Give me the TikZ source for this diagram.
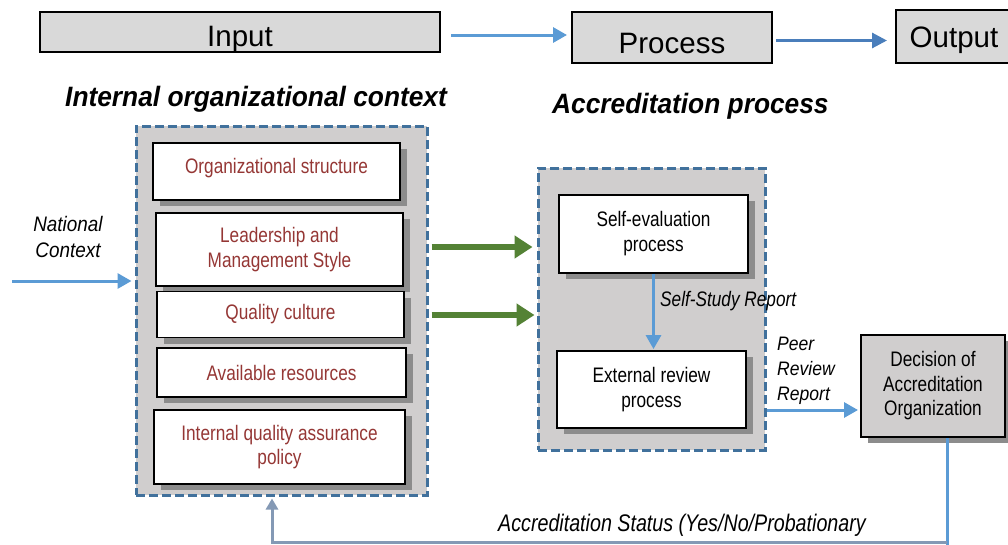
\documentclass[tikz,border=0pt]{standalone}
\usepackage{fontspec}
\setmainfont{Liberation Sans}
\newfontfamily\cf{Liberation Sans}[FakeStretch=0.82]
\newfontfamily\tf{Liberation Sans}[FakeStretch=0.94]
\newfontfamily\nf{Liberation Sans}[FakeStretch=0.9]
\usetikzlibrary{arrows.meta,shadows}
\definecolor{dred}{HTML}{953735}
\definecolor{cgray}{HTML}{D0CECE}
\definecolor{dblue}{HTML}{41719C}
\definecolor{lblue}{HTML}{5B9BD5}
\definecolor{mblue}{HTML}{4A7EBB}
\definecolor{gblue}{HTML}{8499B5}
\definecolor{agreen}{HTML}{548235}
\definecolor{tgray}{HTML}{D9D9D9}
\definecolor{shgray}{HTML}{8C8C8C}
\begin{document}
\begin{tikzpicture}[x=1pt,y=-1pt,
  topbox/.style={draw=black, line width=2pt, fill=tgray, inner sep=0pt,
    font=\fontsize{29.5}{35}\selectfont, text depth=0pt},
  container/.style={draw=dblue, line width=3pt, dash pattern=on 9pt off 4pt,
    fill=cgray, inner sep=0pt},
  shad/.style={drop shadow={shadow xshift=7pt, shadow yshift=-6pt, fill=shgray, opacity=1}},
  factor/.style={shad, draw=black, line width=1.8pt, fill=white, inner sep=0pt,
    text=dred, align=center, font=\cf\fontsize{21}{24.5}\selectfont},
  procbox/.style={shad, draw=black, line width=1.8pt, fill=white, inner sep=0pt,
    align=center, font=\cf\fontsize{21}{25}\selectfont},
  title/.style={anchor=base west, inner sep=0pt,
    font=\tf\fontsize{28}{34}\selectfont\bfseries\itshape},
  lbl/.style={inner sep=0pt, font=\cf\fontsize{21}{25.5}\selectfont\itshape},
  nlbl/.style={inner sep=0pt, font=\nf\fontsize{21}{26}\selectfont\itshape},
  barrow/.style={draw=lblue, line width=3pt, -{Triangle[length=14pt,width=15pt]}},
  marrow/.style={draw=mblue, line width=3pt, -{Triangle[length=15pt,width=15pt]}},
  garrow/.style={draw=agreen, line width=6.5pt, -{Triangle[length=18pt,width=22pt]}},
  bline/.style={draw=lblue, line width=3pt},
  fbarrow/.style={draw=gblue, line width=3pt, -{Triangle[length=11pt,width=12pt]}}
]
\useasboundingbox (0,0) rectangle (1008,544);
\fill[white] (0,0) rectangle (1008,544);

% top row
\node[topbox, text height=28pt, minimum width=400pt, minimum height=40pt] (in) at (240,32) {Input};
\node[topbox, text height=31pt, minimum width=200pt, minimum height=51pt] (proc) at (672,37.5) {Process};
\node[topbox, text height=21pt, minimum width=116pt, minimum height=53pt] (out) at (954,36.5) {Output};
\coordinate (a1) at (0,35);
\coordinate (a2) at (0,40.5);
\draw[barrow, shorten <=10pt, shorten >=4pt] (in.east |- a1) -- (proc.west |- a1);
\draw[marrow, shorten <=3pt, shorten >=8pt] (proc.east |- a2) -- (out.west |- a2);

% titles
\node[title] (t1) at (65,106) {Internal organizational context};
\node[title] (t2) at (552,113) {Accreditation process};

% left container
\node[container, minimum width=291pt, minimum height=369pt] (ctx) at (281.5,310.5) {};
\node[factor, text height=15pt, text depth=12pt, minimum width=247pt, minimum height=57pt] (f1) at (276.5,171.5) {Organizational structure};
\node[factor, minimum width=247pt, minimum height=73pt] (f2) at (279.5,249.5) {Leadership and\\Management Style};
\node[factor, minimum width=247pt, minimum height=46pt] (f3) at (280.5,314.5) {Quality culture};
\node[factor, minimum width=249pt, minimum height=49pt] (f4) at (281.5,372.5) {Available resources};
\node[factor, minimum width=251pt, minimum height=74pt] (f5) at (279.5,447) {Internal quality assurance\\policy};

% right container
\node[container, minimum width=227pt, minimum height=282pt] (rc) at (651.5,309) {};
\node[procbox, minimum width=189pt, minimum height=78pt] (sev) at (653.5,234) {Self-evaluation\\process};
\node[procbox, minimum width=189pt, minimum height=77pt] (erp) at (651.5,389.5) {External review\\process};
\draw[barrow, shorten >=1pt] (sev.south) -- (sev.south |- erp.north);
\node[lbl, anchor=base west] (ssr) at (660,306) {Self-Study Report};

% decision
\node[shad, draw=black, line width=2pt, fill=cgray, inner sep=0pt, align=center,
  font=\cf\fontsize{21}{24.5}\selectfont, minimum width=144pt, minimum height=102pt] (dec) at (933,386)
  {Decision of\\Accreditation\\Organization};
\node[nlbl, font=\nf\fontsize{19.5}{25}\selectfont\itshape, anchor=west, align=left] (prr) at (777,371) {Peer\\Review\\Report};
\coordinate (p) at (0,410);
\draw[barrow, shorten >=2pt] (rc.east |- p) -- (dec.west |- p);

% green arrows
\coordinate (g1) at (0,247);
\coordinate (g2) at (0,315);
\draw[garrow, shorten <=3pt, shorten >=4pt] (ctx.east |- g1) -- (rc.west |- g1);
\draw[garrow, shorten <=3pt, shorten >=2pt] (ctx.east |- g2) -- (rc.west |- g2);

% national context
\node[nlbl, align=center] (nat) at (68,237) {National\\Context};
\coordinate (natS) at (12,281);
\draw[barrow, shorten >=3pt] (natS) -- (ctx.west |- natS);

% feedback
\coordinate (fbr) at (947,542);
\coordinate (fbl) at (272,542);
\draw[bline] (dec.south -| fbr) -- (fbr) -- ++(0,4);
\draw[fbarrow, shorten >=2pt] (fbr) -- (fbl) -- (ctx.south -| fbl);
\node[lbl, font=\cf\fontsize{24}{28}\selectfont\itshape, anchor=base west] (stat) at (498,531) {Accreditation Status (Yes/No/Probationary};
\end{tikzpicture}
\end{document}
